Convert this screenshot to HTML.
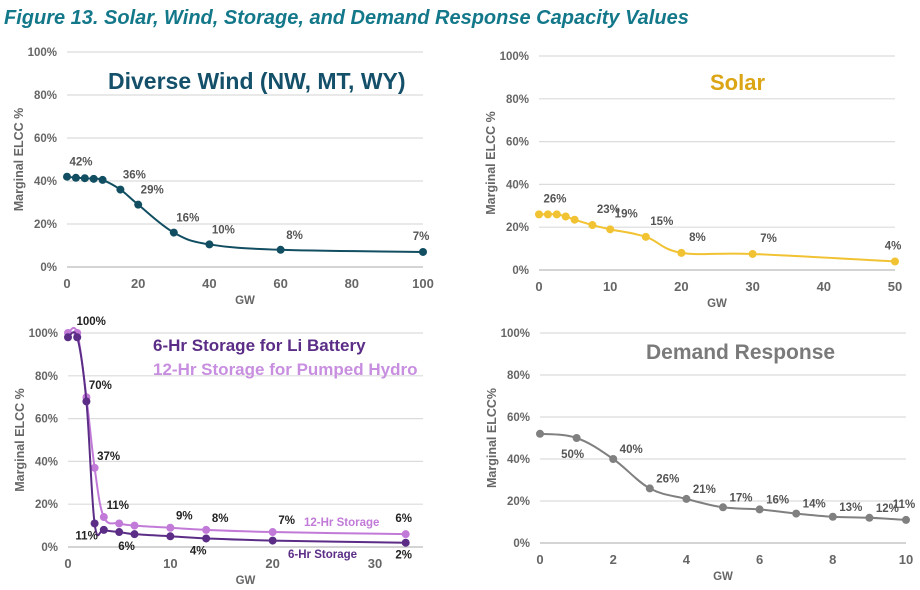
<!DOCTYPE html>
<html><head><meta charset="utf-8">
<style>
body{margin:0;background:#fff;width:920px;height:590px;overflow:hidden;font-family:"Liberation Sans",sans-serif}
svg{position:absolute;left:0;top:0}
</style></head><body>
<svg id="s" width="920" height="590">
<text x="4" y="24" font-size="20" font-weight="bold" font-style="italic" fill="#13788a">Figure 13. Solar, Wind, Storage, and Demand Response Capacity Values</text>
</svg>
<script>
// Wind
const windX=[0,2.5,5,7.5,10,15,20,30,40,60,100];
const windY=[42,41.5,41.3,41,40.5,36,29,16,10.5,8,7];
const windLbl=["42%",null,null,null,null,"36%","29%","16%","10%","8%","7%"];
const windXTicks=[0,20,40,60,80,100];
// Solar
const solarX=[0,1.25,2.5,3.75,5,7.5,10,15,20,30,50];
const solarY=[26,26,26,25,23.5,21,19,15.5,8,7.5,4];
const solarLbl=["26%",null,null,null,null,"23%","19%","15%","8%","7%","4%"];
const solarXTicks=[0,10,20,30,40,50];
// Storage
const stX=[0,0.9,1.8,2.6,3.5,5,6.5,10,13.5,20,33];
const st6Y=[98,98,68,11,8,7,6,5,4,3,2];
const st12Y=[100,100,70,37,14,11,10,9,8,7,6];
const st6Lbl=[null,null,null,"11%",null,null,"6%",null,"4%",null,"2%"];
const st12Lbl=[null,"100%","70%","37%","11%",null,null,"9%","8%","7%","6%"];
const stXTicks=[0,10,20,30];
// Demand response
const drX=[0,1,2,3,4,5,6,7,8,9,10];
const drY=[52,50,40,26,21,17,16,14,12.5,12,11];
const drLbl=[null,"50%","40%","26%","21%","17%","16%","14%","13%","12%","11%"];
const drXTicks=[0,2,4,6,8,10];
const yTicks=[0,20,40,60,80,100];

const svg=document.getElementById('s');
const NS='http://www.w3.org/2000/svg';
function el(t,a,p){const e=document.createElementNS(NS,t);for(const k in a)e.setAttribute(k,a[k]);(p||svg).appendChild(e);return e;}
function txt(x,y,s,a,p){const e=el('text',Object.assign({x:x,y:y},a),p);e.textContent=s;return e;}
function smooth(pts){let d='M'+pts[0][0]+','+pts[0][1];for(let i=0;i<pts.length-1;i++){const p0=pts[i-1]||pts[i],p1=pts[i],p2=pts[i+1],p3=pts[i+2]||p2;const t=0.18;const c1=[p1[0]+(p2[0]-p0[0])*t,p1[1]+(p2[1]-p0[1])*t];const c2=[p2[0]-(p3[0]-p1[0])*t,p2[1]-(p3[1]-p1[1])*t];d+=' C'+c1+' '+c2+' '+p2;}return d;}

function chart(o){
  const g=el('g',{});
  
  
  const xs=v=>o.x0+(v-o.xmin)/(o.xmax-o.xmin)*(o.x1-o.x0);
  const ys=v=>o.y0-(v/100)*(o.y0-o.y1);
  yTicks.forEach(t=>{
    const l=el('line',{x1:o.x0,x2:o.gx1,y1:ys(t),y2:ys(t),stroke:t===0?'#bbb':'#dcdcdc','stroke-width':1.2},g);
    
    
    const tl=txt(o.x0-10,ys(t)+4,t+'%',{'font-size':11.5,'font-weight':'bold',fill:'#666','text-anchor':'end'},g);
    
    
  });
  o.xticks.forEach(t=>{
    const tl=txt(xs(t),o.y0+21,String(t),{'font-size':13,'font-weight':'bold',fill:'#666','text-anchor':'middle'},g);
    
    
  });
  const xt=txt((o.x0+o.gx1)/2,o.y0+37,'GW',{'font-size':11.5,'font-weight':'bold',fill:'#666','text-anchor':'middle'},g);
  
  
  const cy=(o.y0+o.y1)/2;
  const yt=txt(o.x0-44,cy,o.ytitle,{'font-size':12.5,'font-weight':'bold',fill:'#666','text-anchor':'middle',transform:'rotate(-90 '+(o.x0-44)+' '+cy+')'},g);
  
  
  o.series.forEach(s=>{
    const pts=o.xs.map((v,i)=>[xs(v),ys(s.y[i])]);
    const p=el('path',{d:smooth(pts),fill:'none',stroke:s.color,'stroke-width':2},g);
    
    
    pts.forEach((q,i)=>{
      const c=el('circle',{cx:q[0],cy:q[1],r:4,fill:s.color},g);
      
      
      if(s.lbl[i]){
        const last=i===pts.length-1;
        const below=s.below&&s.below.includes(i);
        let lx=q[0]+s.dx, ly=q[1]+s.dy;
        if(below){lx=q[0]-4;ly=q[1]+20;}
        else if(last&&s.lastUp){lx=q[0]-2;ly=q[1]-12;}
        else if(last){lx=q[0]-2;}
        const t=txt(lx,ly,s.lbl[i],{'font-size':11.5,'font-weight':'bold',fill:s.lc||'#555','text-anchor':'middle'},g);
        
        
      }
    });
  });
  return g;
}

chart({name:'wind-chart',x0:67,x1:423,gx1:423,y0:267,y1:52,xmin:0,xmax:100,xs:windX,xticks:windXTicks,ytitle:'Marginal ELCC %',
  series:[{name:'wind',y:windY,lbl:windLbl,color:'#124e62',dx:14,dy:-11,lastUp:true}]});
chart({name:'solar-chart',x0:539,x1:895,gx1:895,y0:270,y1:56,xmin:0,xmax:50,xs:solarX,xticks:solarXTicks,ytitle:'Marginal ELCC %',
  series:[{name:'solar',y:solarY,lbl:solarLbl,color:'#f1c232',dx:16,dy:-12,lastUp:true}]});
chart({name:'storage-chart',x0:68,x1:375,gx1:423,y0:547,y1:333,xmin:0,xmax:30,xs:stX,xticks:stXTicks,ytitle:'Marginal ELCC %',
  series:[{name:'storage-12hr',y:st12Y,lbl:st12Lbl,color:'#c27ad8',dx:14,dy:-8,lc:'#222',lastUp:true},
          {name:'storage-6hr',y:st6Y,lbl:st6Lbl,color:'#5b2d86',dx:-8,dy:16,lc:'#222'}]});
chart({name:'demand-response-chart',x0:540,x1:906,gx1:906,y0:543,y1:333,xmin:0,xmax:10,xs:drX,xticks:drXTicks,ytitle:'Marginal ELCC%',
  series:[{name:'demand-response',y:drY,lbl:drLbl,color:'#808080',dx:18,dy:-6,below:[1],lastUp:true}]});

const titles=[[108,89,'Diverse Wind (NW, MT, WY)','#14506a',23,'wind-chart-title'],
 [710,90,'Solar','#dca515',22,'solar-chart-title'],
 [153,351,'6-Hr Storage for Li Battery','#5b2d86',17,'storage-6hr-legend'],
 [153,375,'12-Hr Storage for Pumped Hydro','#c88ee0',17,'storage-12hr-legend'],
 [646,359,'Demand Response','#7a7a7a',21,'demand-response-title'],
 [304,526,'12-Hr Storage','#c27ad8',11.5,'storage-12hr-label'],
 [288,558,'6-Hr Storage','#5b2d86',11.5,'storage-6hr-label']];
titles.forEach(t=>{
  const e=txt(t[0],t[1],t[2],{'font-size':t[4],'font-weight':'bold',fill:t[3]});
  
  
});
</script>
</body></html>
